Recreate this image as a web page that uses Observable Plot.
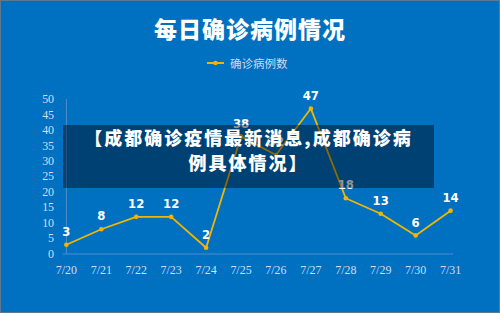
<!DOCTYPE html>
<html>
<head>
<meta charset="utf-8">
<script src="https://cdn.jsdelivr.net/npm/d3@7"></script>
<script src="https://cdn.jsdelivr.net/npm/@observablehq/plot@0.6"></script>
<style>
  html, body { margin: 0; padding: 0; background: #0070c0; }
  #root { position: relative; width: 500px; height: 313px; background: #0070c0; box-sizing: border-box; border: 1px solid #5f7890; overflow: hidden; }
  #chart { position: absolute; left: -1px; top: -1px; }
  #title { position: absolute; left: -1px; top: 13px; width: 500px; text-align: center; color: #ffffff; font: 900 23px "Noto Sans CJK SC", sans-serif; line-height: 28px; letter-spacing: 1px; }
  #legend { position: absolute; left: 206px; top: 53px; height: 18px; display: flex; align-items: center; color: #cfdcee; font: 400 11.5px "Noto Sans CJK SC", sans-serif; }
  #legend svg { margin-right: 6px; }
  #banner { position: absolute; left: 62px; top: 124px; width: 371px; height: 63px; background: rgba(0,0,10,0.42); color: #ffffff; text-align: center; font: 900 18px "Noto Sans CJK SC", sans-serif; line-height: 25px; letter-spacing: 2px; }
  .datalabel text { font-stretch: condensed; }
</style>
</head>
<body>
<div id="root">
  <div id="chart"></div>
  <div id="title">每日确诊病例情况</div>
  <div id="legend"><svg width="17" height="6"><line x1="0" y1="3" x2="17" y2="3" stroke="#f2b600" stroke-width="2"/><circle cx="8.5" cy="3" r="2.2" fill="#f2b600"/></svg><span>确诊病例数</span></div>
  <div id="banner">【成都确诊疫情最新消息,成都确诊病<br>例具体情况】</div>
</div>
<script>
const dates = ["7/20","7/21","7/22","7/23","7/24","7/25","7/26","7/27","7/28","7/29","7/30","7/31"];
const cases = [3, 8, 12, 12, 2, 38, 32, 47, 18, 13, 6, 14];
const yTicks = [0, 5, 10, 15, 20, 25, 30, 35, 40, 45, 50];

const data = dates.map((d, i) => ({date: d, value: cases[i]}));
const lineColor = "#f2b600";
const axisColor = "#4f8fcc";

const chart = Plot.plot({
  width: 500,
  height: 313,
  marginLeft: 62.7,
  marginRight: 46,
  marginTop: 99,
  marginBottom: 59,
  style: { background: "transparent", color: "#d2def0", fontFamily: "'Liberation Serif', 'DejaVu Serif', serif", fontSize: "12px", overflow: "visible" },
  x: { type: "point", domain: dates, padding: 0, label: null },
  y: { domain: [0, 50], label: null },
  marks: [
    Plot.axisY({ ticks: yTicks, tickSize: 0, tickPadding: 9, label: null, fill: "#d2def0" }),
    Plot.axisX({ tickSize: 0, tickPadding: 12, label: null, fill: "#d2def0" }),
    Plot.ruleX([dates[0]], { y1: 0, y2: 50, stroke: axisColor, strokeWidth: 1 }),
    Plot.ruleY([0], { stroke: axisColor, strokeWidth: 1 }),
    Plot.line(data, { x: "date", y: "value", stroke: lineColor, strokeWidth: 1.8 }),
    Plot.dot(data, { x: "date", y: "value", r: 2.3, fill: lineColor, stroke: "none" }),
    Plot.text(data, { x: "date", y: "value", text: d => String(d.value), dy: -13, fill: "#ffffff", fontWeight: "bold", fontSize: 13, className: "datalabel", fontFamily: "'DejaVu Sans Condensed', 'Liberation Sans Narrow', sans-serif" })
  ]
});
document.getElementById("chart").appendChild(chart);
</script>
</body>
</html>
